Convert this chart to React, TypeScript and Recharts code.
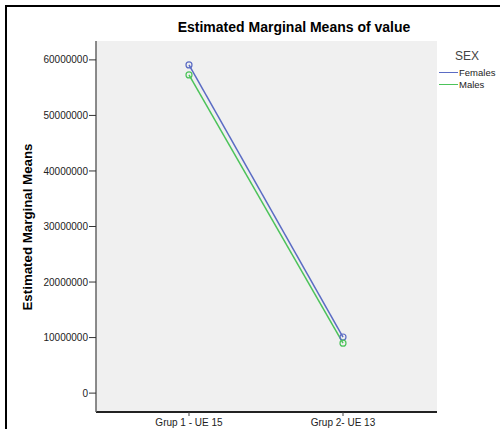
import React from 'react'
import { LineChart, Line, XAxis, YAxis, CartesianGrid } from 'recharts'

const groups = ['Grup 1 - UE 15', 'Grup 2- UE 13']
const females = [59100000, 10100000]
const males = [57300000, 9000000]
const yTicks = [0, 10000000, 20000000, 30000000, 40000000, 50000000, 60000000]

const data = groups.map((g, i) => ({ group: g, Females: females[i], Males: males[i] }))

const font = 'Arial, "Liberation Sans", sans-serif'

const series = [
  { name: 'Females', color: '#5b6cc4' },
  { name: 'Males', color: '#4cc35a' },
]

const SexLegend = () => (
  <div style={{ position: 'absolute', left: 439, top: 49, fontFamily: font, color: '#222' }}>
    <div style={{ fontSize: 12, color: '#444', marginLeft: 16, marginBottom: 3 }}>SEX</div>
    {series.map((s) => (
      <div key={s.name} style={{ display: 'flex', alignItems: 'center', fontSize: 9.5, height: 12 }}>
        <span style={{ display: 'inline-block', width: 19, height: 0, borderTop: `1.5px solid ${s.color}` }} />
        <span style={{ marginLeft: 1 }}>{s.name}</span>
      </div>
    ))}
  </div>
)

export default function App() {
  return (
    <div style={{ position: 'absolute', left: 0, top: 0, width: 500, height: 429, background: '#fff', overflow: 'hidden' }}>
      <div style={{ position: 'absolute', left: 5, top: 5, width: 520, height: 450, borderTop: '2px solid #000', borderLeft: '2px solid #000' }} />
      <div
        style={{
          position: 'absolute',
          left: 294,
          top: 19,
          transform: 'translateX(-50%)',
          fontFamily: font,
          fontWeight: 'bold',
          fontSize: 14,
          whiteSpace: 'nowrap',
          color: '#000',
        }}
      >
        Estimated Marginal Means of value
      </div>
      <SexLegend />
      <div style={{ position: 'absolute', left: 0, top: 0 }}>
        <LineChart width={500} height={429} data={data} margin={{ top: 41, right: 63, bottom: 0, left: 0 }}>
          <CartesianGrid fill="#f0f0f0" stroke="none" />
          <XAxis
            dataKey="group"
            scale="point"
            padding={{ left: 93, right: 94 }}
            height={17}
            tickSize={4}
            tickMargin={3}
            axisLine={{ stroke: '#222', strokeWidth: 2 }}
            tickLine={{ stroke: '#444' }}
            tick={{ fontSize: 10, fill: '#222', fontFamily: font }}
          />
          <XAxis
            xAxisId="top"
            dataKey="group"
            orientation="top"
            height={0}
            tick={false}
            tickLine={false}
            axisLine={{ stroke: '#888', strokeWidth: 2 }}
          />
          <YAxis
            width={96}
            domain={[-3400000, 63400000]}
            ticks={yTicks}
            interval={0}
            tickSize={7}
            tickMargin={1}
            axisLine={{ stroke: '#666', strokeWidth: 1.5 }}
            tickLine={{ stroke: '#333' }}
            tick={{ fontSize: 10, fill: '#222', fontFamily: font }}
            label={{
              content: () => (
                <text
                  x={32}
                  y={227}
                  transform="rotate(-90 32 227)"
                  textAnchor="middle"
                  fontFamily={font}
                  fontWeight="bold"
                  fontSize={13.3}
                  fill="#000"
                >
                  Estimated Marginal Means
                </text>
              ),
            }}
          />
          <YAxis
            yAxisId="right"
            orientation="right"
            width={0}
            domain={[-3400000, 63400000]}
            tick={false}
            tickLine={false}
            axisLine={{ stroke: '#888', strokeWidth: 2 }}
          />
          <Line
            dataKey="Females"
            stroke="#5b6cc4"
            strokeWidth={1.5}
            dot={{ r: 3, fill: 'none', stroke: '#5b6cc4', strokeWidth: 1.2 }}
            isAnimationActive={false}
          />
          <Line
            dataKey="Males"
            stroke="#4cc35a"
            strokeWidth={1.5}
            dot={{ r: 3, fill: 'none', stroke: '#4cc35a', strokeWidth: 1.2 }}
            isAnimationActive={false}
          />
        </LineChart>
      </div>
    </div>
  )
}
